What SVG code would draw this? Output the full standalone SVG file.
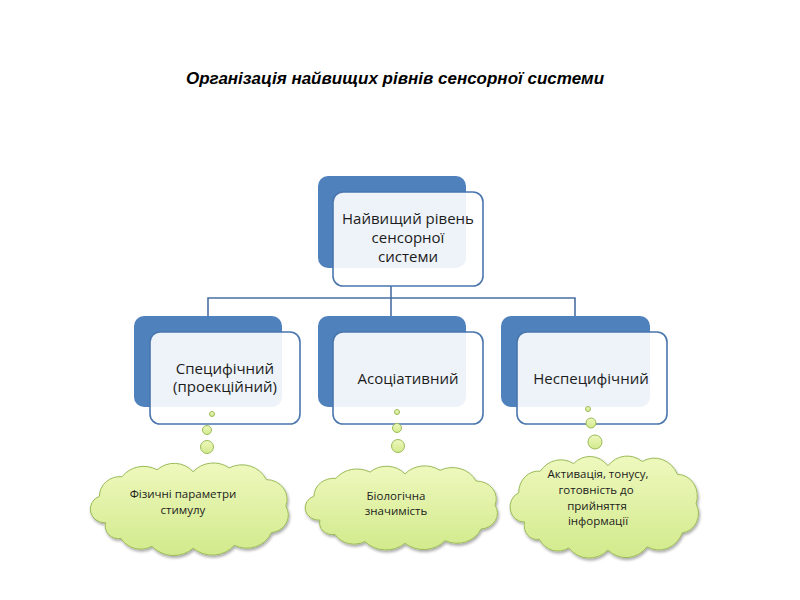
<svg xmlns="http://www.w3.org/2000/svg" xmlns:xlink="http://www.w3.org/1999/xlink" width="800" height="600" viewBox="0 0 800 600">
<defs>
<style>
.back{fill:#4f81bd;}
.front{fill:#ffffff;fill-opacity:0.9;stroke:#4a76ad;stroke-width:1.6;}
.lbl{font-family:"Open Sans","Liberation Sans",sans-serif;font-size:15px;fill:#1c1c1c;text-anchor:middle;}
.cl{font-family:"Open Sans","Liberation Sans",sans-serif;font-size:11.5px;fill:#1c1c1c;text-anchor:middle;}
.conn{fill:none;stroke:#4a6fa3;stroke-width:1.6;}
.bub{fill:url(#g);stroke:#9bbb59;stroke-width:1;}
.cloud{fill:url(#g);stroke:#9bbb59;stroke-width:1;filter:url(#sh);}
</style>
<linearGradient id="g" x1="0" y1="0" x2="0" y2="1">
<stop offset="0" stop-color="#eef8bd"/>
<stop offset="1" stop-color="#d2ea8c"/>
</linearGradient>
<filter id="sh" x="-10%" y="-10%" width="125%" height="130%">
<feGaussianBlur in="SourceAlpha" stdDeviation="1.5"/>
<feOffset dx="1" dy="2" result="b"/>
<feComponentTransfer><feFuncA type="linear" slope="0.35"/></feComponentTransfer>
<feMerge><feMergeNode/><feMergeNode in="SourceGraphic"/></feMerge>
</filter>
<path id="cloudp" vector-effect="non-scaling-stroke" d="M20,62 A14,14 0 0 1 14,35 A20,20 0 0 1 36,15 A26,26 0 0 1 70,8 A24,24 0 0 1 105,10 A26,26 0 0 1 140,6 A26,26 0 0 1 176,18 A20,20 0 0 1 195,45 A18,18 0 0 1 181,72 A26,26 0 0 1 145,85 A28,28 0 0 1 105,88 A28,28 0 0 1 65,86 A22,22 0 0 1 35,78 A13,13 0 0 1 20,62 Z"/>
</defs>
<rect width="800" height="600" fill="#ffffff"/>
<text x="395" y="84" font-family="'Liberation Sans',Arial,sans-serif" font-size="17" font-weight="bold" font-style="italic" text-anchor="middle" fill="#000000">Організація найвищих рівнів сенсорної системи</text>
<g id="connectors">
<path class="conn" d="M391,286 V298 M208,316 V298 H575 V316 M391,298 V316"/>
</g>
<g id="node-top">
<rect class="back" x="318" y="176" width="148" height="92" rx="10"/>
<rect class="front" x="333" y="192" width="150" height="94" rx="10"/>
<text class="lbl" x="408" y="224">Найвищий рівень</text>
<text class="lbl" x="408" y="243">сенсорної</text>
<text class="lbl" x="408" y="262">системи</text>
</g>
<g id="node-specific">
<rect class="back" x="134" y="316" width="148" height="91" rx="10"/>
<rect class="front" x="150" y="332" width="150" height="92" rx="10"/>
<text class="lbl" x="225" y="374">Специфічний</text>
<text class="lbl" x="225" y="392">(проекційний)</text>
</g>
<g id="node-assoc">
<rect class="back" x="318" y="316" width="148" height="91" rx="10"/>
<rect class="front" x="333" y="332" width="150" height="92" rx="10"/>
<text class="lbl" x="408" y="384">Асоціативний</text>
</g>
<g id="node-nonspecific">
<rect class="back" x="501" y="316" width="149" height="91" rx="10"/>
<rect class="front" x="517" y="332" width="150" height="92" rx="10"/>
<text class="lbl" x="591" y="384">Неспецифічний</text>
</g>
<g id="cloud-left">
<circle class="bub" cx="212" cy="414" r="2.5"/>
<circle class="bub" cx="207" cy="430" r="4.5"/>
<circle class="bub" cx="207" cy="447" r="6.5"/>
<use xlink:href="#cloudp" class="cloud" transform="translate(85,462) scale(1.03,0.98)"/>
<text class="cl" x="183" y="498">Фізичні параметри</text>
<text class="cl" x="183" y="514">стимулу</text>
</g>
<g id="cloud-mid">
<circle class="bub" cx="397" cy="412" r="2.5"/>
<circle class="bub" cx="397" cy="428" r="4.5"/>
<circle class="bub" cx="398" cy="446" r="6.5"/>
<use xlink:href="#cloudp" class="cloud" transform="translate(300,465) scale(1.0,0.89)"/>
<text class="cl" x="396" y="500">Біологічна</text>
<text class="cl" x="396" y="515">значимість</text>
</g>
<g id="cloud-right">
<circle class="bub" cx="588" cy="409" r="2.5"/>
<circle class="bub" cx="591" cy="423" r="5"/>
<circle class="bub" cx="595" cy="442" r="7"/>
<use xlink:href="#cloudp" class="cloud" transform="translate(505,455) scale(0.98,1.08)"/>
<text class="cl" x="598" y="478">Активація, тонусу,</text>
<text class="cl" x="596" y="494">готовність до</text>
<text class="cl" x="597" y="510">прийняття</text>
<text class="cl" x="598" y="525">інформації</text>
</g>
</svg>
